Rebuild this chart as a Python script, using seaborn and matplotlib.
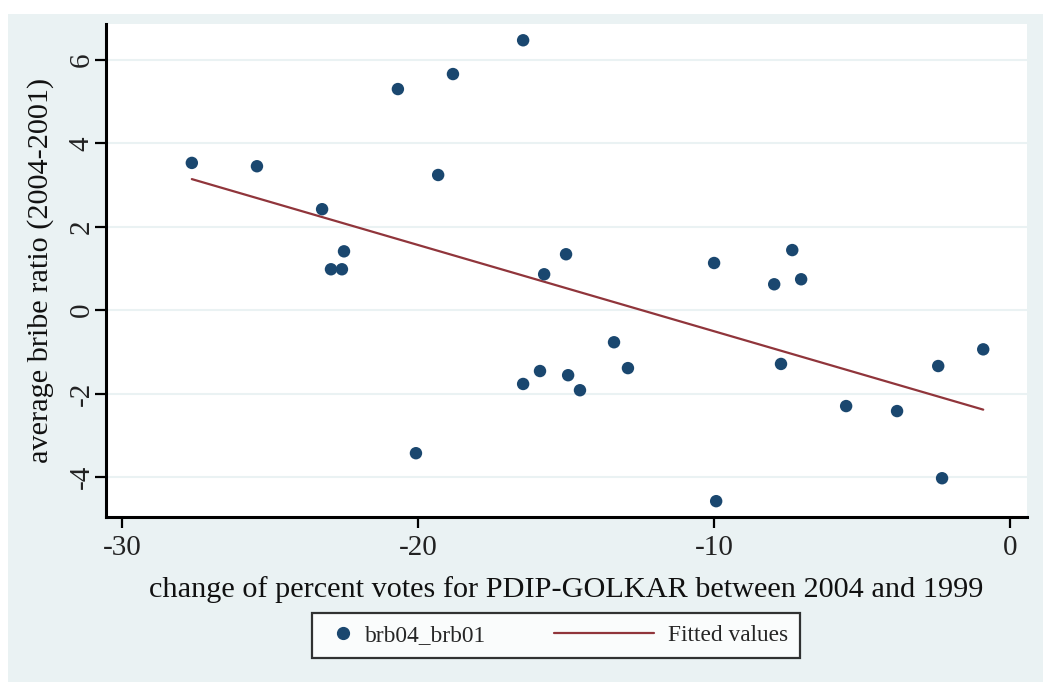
import numpy as np
import pandas as pd
import matplotlib
matplotlib.use("Agg")
import matplotlib.pyplot as plt
import seaborn as sns
from matplotlib.lines import Line2D
from matplotlib.patches import Rectangle
from matplotlib.legend_handler import HandlerBase

# values
vote_change = [-27.64, -25.44, -23.24, -22.94, -22.57, -22.50, -20.68, -20.07, -19.32, -18.82,
               -16.45, -16.45, -15.88, -15.74, -15.00, -14.93, -14.53, -13.38, -12.91, -10.00,
               -9.93, -7.97, -7.74, -7.36, -7.06, -5.54, -3.82, -2.43, -2.30, -0.91]
bribe_ratio = [3.53, 3.45, 2.42, 0.98, 0.98, 1.41, 5.30, -3.43, 3.24, 5.66,
               6.47, -1.77, -1.46, 0.86, 1.34, -1.56, -1.92, -0.77, -1.39, 1.13,
               -4.58, 0.62, -1.29, 1.44, 0.74, -2.30, -2.42, -1.34, -4.03, -0.94]
x_ticks = [-30, -20, -10, 0]
y_ticks = [-4, -2, 0, 2, 4, 6]

NAVY = "#1a476f"
MAROON = "#90353b"
BG = "#eaf2f3"

df = pd.DataFrame({"x": vote_change, "y": bribe_ratio})


class LongLineHandler(HandlerBase):
    """ Legend line that reaches further left than the handle box. """
    def create_artists(self, legend, orig_handle, xdescent, ydescent, width, height, fontsize, trans):
        y = height / 2 - ydescent
        x1 = width - xdescent
        ln = Line2D([x1 - 72, x1], [y, y], color=orig_handle.get_color(), lw=orig_handle.get_linewidth())
        ln.set_transform(trans)
        return [ln]


class RightDotHandler(HandlerBase):
    """ Legend dot sitting near the right end of the handle box. """
    def create_artists(self, legend, orig_handle, xdescent, ydescent, width, height, fontsize, trans):
        y = height / 2 - ydescent
        x = width - xdescent - 6
        dot = Line2D([x], [y], marker="o", ls="", color=orig_handle.get_color(),
                     markersize=orig_handle.get_markersize())
        dot.set_transform(trans)
        return [dot]


sns.set_theme(style="white")
plt.rcParams['font.family'] = ['Liberation Serif', 'DejaVu Serif']
plt.rcParams['axes.unicode_minus'] = False

fig = plt.figure(figsize=(10.43, 6.82), dpi=100, facecolor="white")
fig.patches.append(Rectangle((8 / 1043, 0), 1, 1 - 14 / 682, transform=fig.transFigure,
                             facecolor=BG, edgecolor="none", zorder=-10))
ax = fig.add_axes([0.1016, 0.2419, 0.8831, 0.7229])
ax.set_facecolor("white")

sns.scatterplot(data=df, x="x", y="y", ax=ax, color=NAVY, s=80, edgecolor="none", zorder=3)
sns.regplot(data=df, x="x", y="y", ax=ax, scatter=False, ci=None, truncate=True,
            line_kws=dict(color=MAROON, lw=1.6, zorder=2))

ax.set_xlim(-30.54, 0.57)
ax.set_ylim(-4.96, 6.86)
ax.set_xticks(x_ticks)
ax.set_yticks(y_ticks)
ax.set_yticklabels([str(v) for v in y_ticks], rotation=90, va="center")
ax.yaxis.grid(True, color=BG, lw=1.5)
ax.set_axisbelow(True)

for side in ["top", "right"]:
    ax.spines[side].set_visible(False)
for side in ["left", "bottom"]:
    ax.spines[side].set_color("black")
    ax.spines[side].set_linewidth(2.2)

ax.tick_params(axis="both", which="major", direction="out", length=8, width=1.6,
               color="black", labelsize=21, labelcolor="#222222",
               bottom=True, left=True)
ax.tick_params(axis="x", pad=5)
ax.tick_params(axis="y", pad=0)

ax.set_xlabel("change of percent votes for PDIP-GOLKAR between 2004 and 1999", fontsize=21.8, color="#111111", labelpad=11)
ax.set_ylabel("average bribe ratio (2004-2001)", fontsize=21.8, color="#111111", labelpad=11)

dot_handle = Line2D([], [], marker="o", ls="", color=NAVY, markersize=8.5)
line_handle = Line2D([], [], color=MAROON, lw=1.6)
leg = fig.legend([dot_handle, line_handle], ["brb04_brb01", "Fitted values"],
                 loc="center", bbox_to_anchor=(0.533, 0.068), ncol=2, fontsize=16.8,
                 frameon=True, fancybox=False, edgecolor="black", facecolor="white",
                 handlelength=1.2, handletextpad=0.6, columnspacing=6.0, borderpad=0.5,
                 handler_map={line_handle: LongLineHandler(), dot_handle: RightDotHandler()})
leg.get_frame().set_linewidth(1.6)

fig.savefig("out.png", dpi=100, facecolor=fig.get_facecolor())
